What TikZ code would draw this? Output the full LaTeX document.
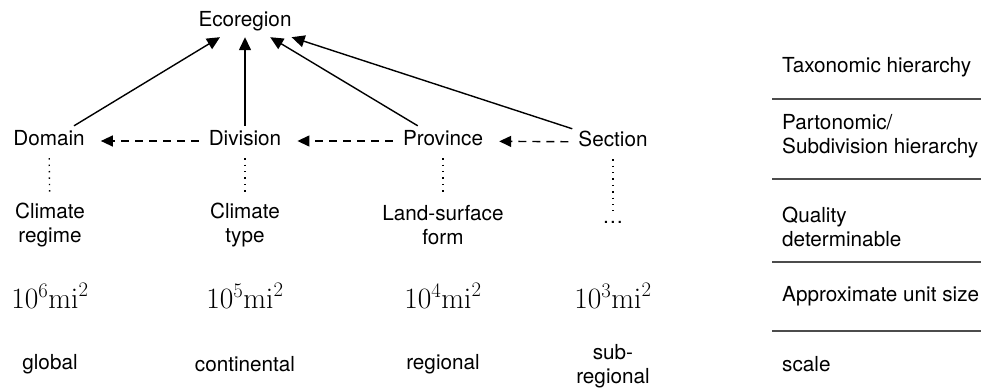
\RequirePackage{fix-cm}
\documentclass[tikz,border=0pt]{standalone}
\usepackage[no-math]{fontspec}
\setmainfont{TeX Gyre Heros}
\usetikzlibrary{arrows.meta}

\begin{document}
\begin{tikzpicture}
  [x=1pt, y=-1pt,
   font=\fontsize{20.7}{24}\selectfont,
   rank/.style={inner sep=6pt, text height=14pt, text depth=4pt},
   detail/.style={align=center, inner sep=4pt},
   areatext/.style={font=\fontsize{29.5}{32}\selectfont},
   rowlabel/.style={anchor=west, align=left, inner sep=0pt},
   isa/.style={line width=1.4pt, -{Triangle[length=13pt,width=12pt]}},
   partof/.style={line width=1.4pt, dash pattern=on 8pt off 6pt,
     shorten <=4pt, shorten >=10pt, -{Triangle[length=12pt,width=11pt]}},
   quality/.style={line width=1.4pt, dash pattern=on 1.4pt off 5pt,
     shorten <=2pt, shorten >=6pt}]
  \useasboundingbox (0,0) rectangle (981,390);

  \node
  [rank]
  (eco) at (245,22) {Ecoregion};

  \node
  [rank]
  (domain) at (49,141) {Domain};

  \node
  [rank]
  (division) at (245,141) {Division};

  \node
  [rank]
  (province) at (443,141) {Province};

  \node
  [rank]
  (section) at (613,142) {Section};

  \node
  [detail]
  (regime) at (50,225) {Climate\\regime};

  \node
  [detail]
  (type) at (245,225) {Climate\\type};

  \node
  [detail]
  (form) at (443,225) {Land-surface\\form};

  \node
  [detail]
  (more) at (613,222) {\ldots};

  \node
  [areatext]
  (area1) at (50,296) {$10^6\mathrm{mi}^2$};

  \node
  [areatext]
  (area2) at (245,296) {$10^5\mathrm{mi}^2$};

  \node
  [areatext]
  (area3) at (443,296) {$10^4\mathrm{mi}^2$};

  \node
  [areatext]
  (area4) at (613,296) {$10^3\mathrm{mi}^2$};

  \node
  [detail]
  (global) at (50,364) {global};

  \node
  [detail]
  (continental) at (245,364) {continental};

  \node
  [detail]
  (regional) at (443,364) {regional};

  \node
  [detail]
  (subregional) at (613,366) {sub-\\regional};

  \node
  [rowlabel]
  (taxonomic) at (782,67) {Taxonomic hierarchy};

  \node
  [rowlabel]
  (partonomic) at (782,136) {Partonomic/\\Subdivision hierarchy};

  \node
  [rowlabel]
  (determinable) at (782,227) {Quality\\determinable};

  \node
  [rowlabel]
  (unitsize) at (782,296) {Approximate unit size};

  \node
  [rowlabel]
  (scalerow) at (782,364) {scale};

  \foreach \y in {99,179,262,331}
    \draw
    [line width=1.3pt, black!70]
    (772,\y) -- (981,\y);

  \draw [isa] (domain) -- (eco);
  \draw [isa] (division) -- (eco);
  \draw [isa] (province) -- (eco);
  \draw [isa] (section) -- (eco);

  \draw [partof] (division) -- (domain);
  \draw [partof] (province) -- (division);
  \draw [partof] (section) -- (province);

  \draw [quality] (domain) -- (regime);
  \draw [quality] (division) -- (type);
  \draw [quality] (province) -- (form);
  \draw [quality] (section) -- (more);
\end{tikzpicture}
\end{document}
